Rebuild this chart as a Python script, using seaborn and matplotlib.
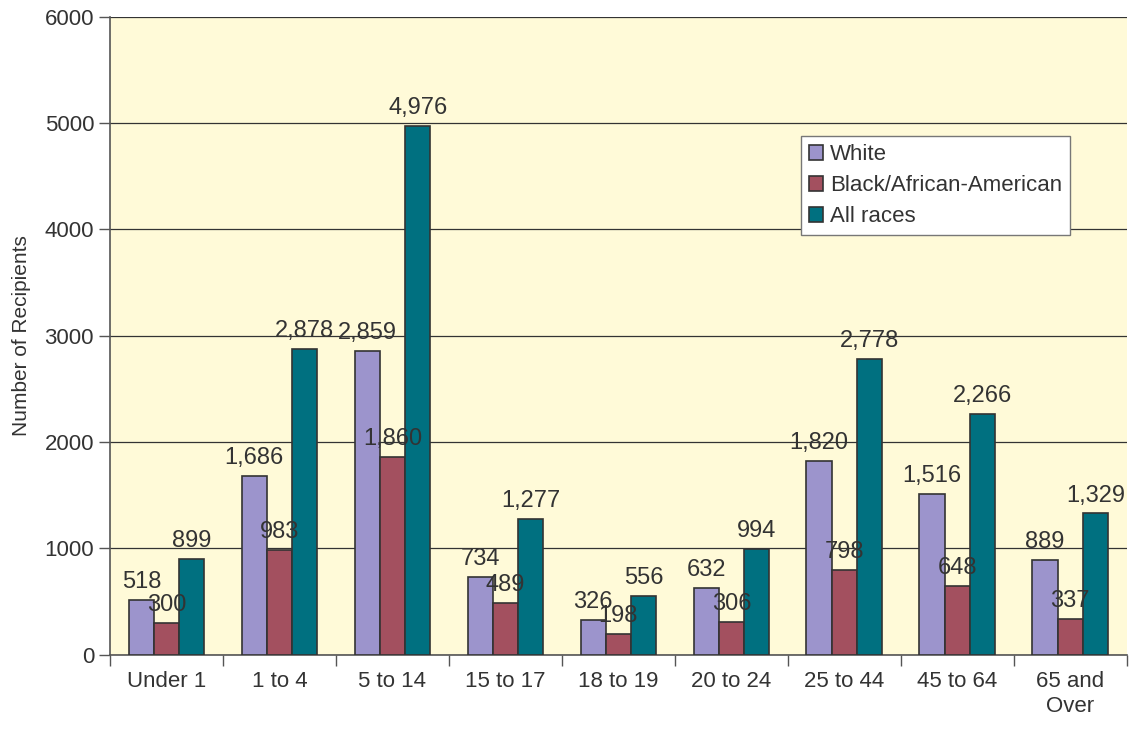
import pandas as pd
import seaborn as sns
import matplotlib.pyplot as plt
from matplotlib.ticker import FixedLocator, NullFormatter

# age groups and recipient counts per race
age_groups = ["Under 1", "1 to 4", "5 to 14", "15 to 17", "18 to 19",
              "20 to 24", "25 to 44", "45 to 64", "65 and\nOver"]
white = [518, 1686, 2859, 734, 326, 632, 1820, 1516, 889]
black = [300, 983, 1860, 489, 198, 306, 798, 648, 337]
all_races = [899, 2878, 4976, 1277, 556, 994, 2778, 2266, 1329]
series = ["White", "Black/African-American", "All races"]
colors = ["#9c94cc", "#a3505f", "#007080"]

df = pd.DataFrame({
    "age": age_groups * 3,
    "race": [series[0]] * 9 + [series[1]] * 9 + [series[2]] * 9,
    "count": white + black + all_races,
})

sns.set_style("white")
plt.rcParams['font.family'] = ['Liberation Sans', 'DejaVu Sans']
fs = 16

fig, ax = plt.subplots(figsize=(11.29, 7.3), dpi=100)
fig.subplots_adjust(left=0.0975, right=0.998, top=0.977, bottom=0.103)
ax.set_facecolor("#fffad8")

sns.barplot(data=df, x="age", y="count", hue="race", hue_order=series,
            palette=colors, width=0.67, edgecolor="#333333", linewidth=1.2,
            saturation=1, ax=ax, zorder=3)

for cont in ax.containers:
    ax.bar_label(cont, labels=[f"{v:,.0f}" for v in cont.datavalues],
                 padding=5, fontsize=17, color="#333333")

ax.set_ylim(0, 6000)
ax.set_xlim(-0.5, len(age_groups) - 0.5)
ax.set_yticks(range(0, 6001, 1000))
ax.yaxis.grid(True, color="#333333", linewidth=0.9, zorder=0)
ax.set_axisbelow(True)
ax.tick_params(axis="y", labelsize=fs, length=8, width=1, left=True,
               color="#555555", labelcolor="#333333")

# ticks between the groups, labels centered
ax.tick_params(axis="x", which="major", length=0, labelsize=fs, pad=12,
               labelcolor="#333333")
ax.xaxis.set_minor_locator(FixedLocator([i - 0.5 for i in range(len(age_groups) + 1)]))
ax.xaxis.set_minor_formatter(NullFormatter())
ax.tick_params(axis="x", which="minor", length=8, width=1, bottom=True, color="#555555")

ax.set_xlabel("")
ax.set_ylabel("Number of Recipients", fontsize=15, color="#333333", labelpad=10)

for s in ["top", "right"]:
    ax.spines[s].set_visible(False)
for s in ["left", "bottom"]:
    ax.spines[s].set_color("#555555")
    ax.spines[s].set_linewidth(1.2)

leg = ax.legend(loc="upper right", bbox_to_anchor=(0.955, 0.83), fontsize=fs,
                frameon=True, fancybox=False, handlelength=0.65, handleheight=0.65,
                handletextpad=0.3, borderpad=0.35, labelspacing=0.45, title=None)
leg.get_frame().set_edgecolor("#777777")
leg.get_frame().set_facecolor("white")
leg.get_frame().set_alpha(1)
for t in leg.get_texts():
    t.set_color("#333333")

fig.savefig("out.png", dpi=100)
